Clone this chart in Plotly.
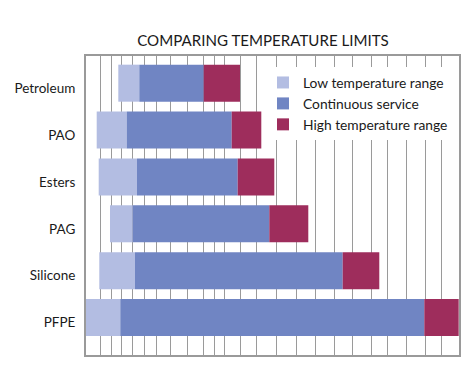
import plotly.graph_objects as go

# Categories (bottom to top as drawn by the axis)
categories = ["PFPE", "Silicone", "PAG", "Esters", "PAO", "Petroleum"]

# Edges of each range on the (unlabelled) horizontal temperature scale
low_start = [0.0, 13.3, 24.0, 12.7, 10.7, 32.3]
low_end = [34.3, 49.0, 46.7, 51.0, 40.7, 53.3]
cont_end = [338.3, 256.7, 183.3, 151.7, 145.7, 117.7]
high_end = [372.7, 293.3, 222.3, 188.3, 175.3, 154.0]

# Irregular vertical grid lines on the same scale
grid_positions = [14.5, 25.5, 35.0, 46.5, 58.5, 70.5, 84.0, 101.0, 117.5, 128.5,
                  138.5, 154.5, 170.5, 190.0, 210.5, 229.5, 248.0, 266.0, 285.0,
                  301.0, 320.0, 339.0, 355.5]

series_names = ["Low temperature range", "Continuous service", "High temperature range"]
colors = ["#b3bde2", "#7085c3", "#9e2d5c"]

bases = [low_start, low_end, cont_end]
ends = [low_end, cont_end, high_end]

fig = go.Figure()
for name, color, b, e in zip(series_names, colors, bases, ends):
    fig.add_trace(go.Bar(
        y=categories,
        x=[ei - bi for bi, ei in zip(b, e)],
        base=b,
        orientation="h",
        name=name,
        marker=dict(color=color, line=dict(width=0)),
        width=0.79,
    ))

font_family = "Lato, 'Open Sans', sans-serif"

# page body has an 8px margin, so the figure is sized/offset accordingly
W, H = 466, 378
fig.update_layout(
    width=W, height=H,
    barmode="overlay",
    plot_bgcolor="white", paper_bgcolor="white",
    margin=dict(l=78, r=15, t=48, b=31, autoexpand=False),
    font=dict(family=font_family, color="#1a1a1a"),
    title=dict(text="COMPARING TEMPERATURE LIMITS", x=(263 - 8) / W, xanchor="center",
               xref="container",
               y=1 - 33 / H, yanchor="middle",
               font=dict(size=15.1, family=font_family, color="#1a1a1a")),
    showlegend=True,
    legend=dict(x=(263 - 86) / 373, xanchor="left", y=1 - (67 - 56) / 299, yanchor="top",
                bgcolor="white", borderwidth=0, font=dict(size=13.8, color="#1a1a1a"),
                traceorder="normal", itemsizing="constant", tracegroupgap=0),
    xaxis=dict(range=[0, 373], tickvals=grid_positions, showticklabels=False,
               showgrid=True, gridcolor="#9a9a9a", gridwidth=1.3, zeroline=False,
               showline=True, mirror=True, linecolor="#9a9a9a", linewidth=2, ticks="",
               automargin=False),
    yaxis=dict(categoryorder="array", categoryarray=categories, range=[-0.8, 5.58],
               showgrid=False, zeroline=False, showline=True, mirror=True,
               linecolor="#9a9a9a", linewidth=2, ticks="", automargin=False,
               ticklabelstandoff=6, ticklabelshift=5,
               tickfont=dict(size=13.5, color="#1a1a1a")),
)

fig.write_html("out.html")
